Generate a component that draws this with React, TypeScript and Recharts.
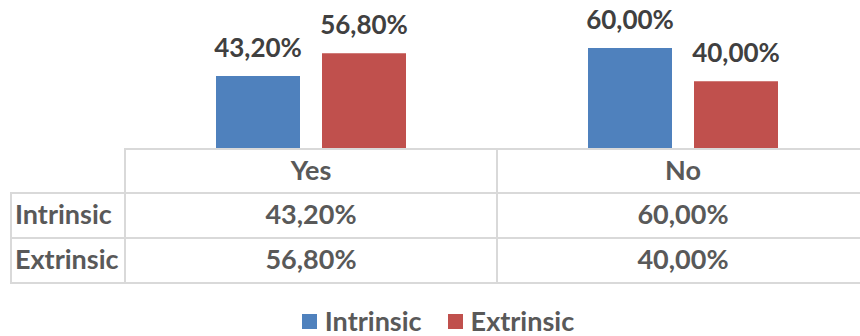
import React from 'react'
import { BarChart, Bar, XAxis, YAxis, Legend, LabelList } from 'recharts'

const categories = ['Yes', 'No']
const intrinsic = [43.2, 60.0]
const extrinsic = [56.8, 40.0]
const seriesNames = ['Intrinsic', 'Extrinsic']

const COLORS = ['#4f81bd', '#c0504d']
const FONT = 'Lato, "Open Sans", sans-serif'
const GRID = '#d9d9d9'

const W = 880
const H = 336
const MARGIN = { top: 48, right: 11, left: 125, bottom: 2 }
const BAND = (W - MARGIN.left - MARGIN.right) / categories.length

const data = categories.map((c, i) => ({ cat: c, intrinsic: intrinsic[i], extrinsic: extrinsic[i] }))

const fmt = (v: unknown) => `${(v as number).toFixed(2).replace('.', ',')}%`

// row boundaries of the data table, relative to the axis line
const ROW_TOP = [0, 44, 89, 134]

function TableTick(props: any) {
  const { x, y, payload, index } = props
  const left = x - BAND / 2
  const right = x + BAND / 2
  const row = data[index]
  const txt = { fontFamily: FONT, fontWeight: 700, fontSize: 27, fill: '#595959', textAnchor: 'middle' as const }
  return (
    <g>
      {ROW_TOP.map((r) => (
        <line key={r} x1={left} x2={right} y1={y + r + 1} y2={y + r + 1} stroke={GRID} strokeWidth={2} />
      ))}
      <line x1={left} x2={left} y1={y} y2={y + ROW_TOP[3] + 2} stroke={GRID} strokeWidth={2} />
      {index === categories.length - 1 && (
        <line x1={right} x2={right} y1={y} y2={y + ROW_TOP[3] + 2} stroke={GRID} strokeWidth={2} />
      )}
      <text {...txt} x={x} y={y + 32}>{payload.value}</text>
      <text {...txt} x={x} y={y + 76}>{fmt(row.intrinsic)}</text>
      <text {...txt} x={x} y={y + 121}>{fmt(row.extrinsic)}</text>
      {index === 0 && (
        <g>
          {ROW_TOP.slice(1).map((r) => (
            <line key={r} x1={10} x2={left} y1={y + r + 1} y2={y + r + 1} stroke={GRID} strokeWidth={2} />
          ))}
          <line x1={11} x2={11} y1={y + ROW_TOP[1]} y2={y + ROW_TOP[3] + 2} stroke={GRID} strokeWidth={2} />
          <text {...txt} textAnchor="start" x={15} y={y + 76}>{seriesNames[0]}</text>
          <text {...txt} textAnchor="start" x={15} y={y + 121}>{seriesNames[1]}</text>
        </g>
      )}
    </g>
  )
}

function LegendContent(props: any) {
  const items = [...(props.payload || [])].sort(
    (a: any, b: any) => seriesNames.indexOf(a.value) - seriesNames.indexOf(b.value)
  )
  return (
    <div style={{ display: 'flex', justifyContent: 'center', gap: 26, fontFamily: FONT, fontWeight: 700, fontSize: 27, color: '#595959', lineHeight: '26px' }}>
      {items.map((p: any) => (
        <div key={p.value} style={{ display: 'flex', alignItems: 'center', gap: 8 }}>
          <div style={{ width: 15, height: 15, background: p.color }} />
          <span>{p.value}</span>
        </div>
      ))}
    </div>
  )
}

export default function App() {
  return (
    <div style={{ position: 'absolute', left: 0, top: 0, width: 860, height: H, overflow: 'hidden', background: '#fff' }}>
      <BarChart width={W} height={H} data={data} margin={MARGIN} barSize={84} barGap={22}>
        <XAxis
          dataKey="cat"
          height={160}
          axisLine={false}
          tickLine={false}
          tickSize={0}
          tickMargin={0}
          interval={0}
          tick={<TableTick />}
        />
        <YAxis hide domain={[0, 60]} />
        <Legend
          verticalAlign="bottom"
          height={26}
          wrapperStyle={{ left: 0, width: 876 }}
          content={<LegendContent />}
        />
        <Bar dataKey="intrinsic" name={seriesNames[0]} fill={COLORS[0]} isAnimationActive={false}>
          <LabelList dataKey="intrinsic" position="top" offset={19} formatter={fmt}
            style={{ fontFamily: FONT, fontWeight: 700, fontSize: 26, fill: '#404040' }} />
        </Bar>
        <Bar dataKey="extrinsic" name={seriesNames[1]} fill={COLORS[1]} isAnimationActive={false}>
          <LabelList dataKey="extrinsic" position="top" offset={19} formatter={fmt}
            style={{ fontFamily: FONT, fontWeight: 700, fontSize: 26, fill: '#404040' }} />
        </Bar>
      </BarChart>
    </div>
  )
}
